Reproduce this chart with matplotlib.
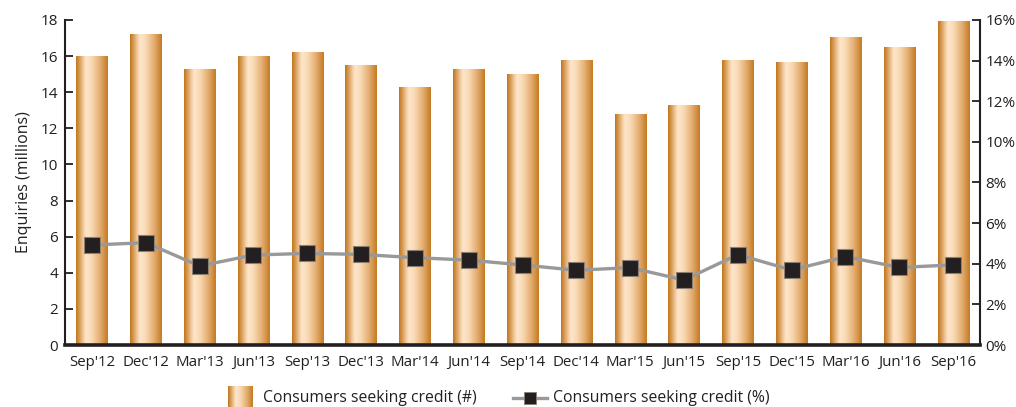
import numpy as np
import matplotlib
matplotlib.use("Agg")
import matplotlib.pyplot as plt
from matplotlib.colors import LinearSegmentedColormap
from matplotlib.lines import Line2D

plt.rcParams['font.family'] = ['Open Sans', 'DejaVu Sans']

quarters = ["Sep'12", "Dec'12", "Mar'13", "Jun'13", "Sep'13", "Dec'13", "Mar'14", "Jun'14",
            "Sep'14", "Dec'14", "Mar'15", "Jun'15", "Sep'15", "Dec'15", "Mar'16", "Jun'16", "Sep'16"]
enquiries = [16.0, 17.2, 15.3, 16.0, 16.2, 15.5, 14.3, 15.3,
             15.0, 15.8, 12.8, 13.3, 15.8, 15.7, 17.05, 16.5, 17.95]
share_pct = [4.92, 5.04, 3.89, 4.43, 4.51, 4.46, 4.30, 4.18,
             3.94, 3.68, 3.81, 3.20, 4.45, 3.69, 4.35, 3.82, 3.94]

dark = '#231f20'
grad = LinearSegmentedColormap.from_list('bar', [
    (0.0, '#c0741a'), (0.12, '#d9a060'), (0.25, '#f6d2a8'), (0.32, '#fde6cc'),
    (0.5, '#f8d8b2'), (0.75, '#e4ae72'), (1.0, '#c47a22')])
gimg = np.linspace(0, 1, 256).reshape(1, -1)

fig = plt.figure(figsize=(10.16, 4.07), dpi=100)
ax = fig.add_axes([0.064, 0.1523, 0.9006, 0.7986])
x = np.arange(len(quarters))

bars = ax.bar(x, enquiries, width=0.58, facecolor='none', edgecolor='none')
for b in bars:
    x0, y0 = b.get_x(), b.get_y()
    im = ax.imshow(gimg, cmap=grad, aspect='auto', interpolation='bilinear',
                   extent=[x0, x0 + b.get_width(), y0, y0 + b.get_height()], zorder=2)
    im.set_clip_path(b)

ax.set_xlim(-0.5, len(quarters) - 0.5)
ax.set_ylim(0, 18)
ax.set_yticks(range(0, 19, 2))
ax.set_xticks(x)
ax.set_xticklabels(quarters)
ax.set_ylabel('Enquiries (millions)', fontsize=11.5, color=dark, labelpad=6)
ax.tick_params(axis='y', direction='in', length=5.5, width=1.3, colors=dark, labelsize=11, pad=5)
ax.tick_params(axis='x', length=0, colors=dark, labelsize=10.8, pad=7)
ax.spines['top'].set_visible(False)
ax.spines['right'].set_visible(False)
ax.spines['left'].set_linewidth(1.5)
ax.spines['left'].set_color(dark)
ax.spines['bottom'].set_linewidth(2.6)
ax.spines['bottom'].set_color(dark)
ax.spines['bottom'].set_zorder(5)

ax2 = ax.twinx()
ax2.plot(x, share_pct, color='#999999', lw=2.4, marker='s', markersize=12,
         markerfacecolor=dark, markeredgecolor='#8a7f72', markeredgewidth=0.8, zorder=4)
ax2.set_ylim(0, 16)
ax2.set_yticks(range(0, 17, 2))
ax2.set_yticklabels([f'{v}%' for v in range(0, 17, 2)])
ax2.tick_params(axis='y', direction='in', length=5.5, width=1.3, colors=dark, labelsize=11, pad=4)
for s in ['top', 'left', 'bottom']:
    ax2.spines[s].set_visible(False)
ax2.spines['right'].set_linewidth(1.5)
ax2.spines['right'].set_color(dark)

# legend drawn by hand at the bottom
lax = fig.add_axes([228 / 1016, 0.0, 25 / 1016, 21 / 407])
lax.imshow(gimg, cmap=grad, aspect='auto', interpolation='bilinear')
lax.axis('off')
fig.text(263 / 1016, 9 / 407, 'Consumers seeking credit (#)', fontsize=11.3, color=dark, va='center')
fig.add_artist(Line2D([513 / 1016, 547 / 1016], [9 / 407, 9 / 407], transform=fig.transFigure,
                      color='#999999', lw=2.4))
fig.add_artist(Line2D([530 / 1016], [9 / 407], transform=fig.transFigure, marker='s', markersize=9,
                      markerfacecolor=dark, markeredgecolor='#8a7f72', markeredgewidth=0.6, ls='none'))
fig.text(553 / 1016, 9 / 407, 'Consumers seeking credit (%)', fontsize=11.3, color=dark, va='center')

fig.savefig('out.png', dpi=100)
